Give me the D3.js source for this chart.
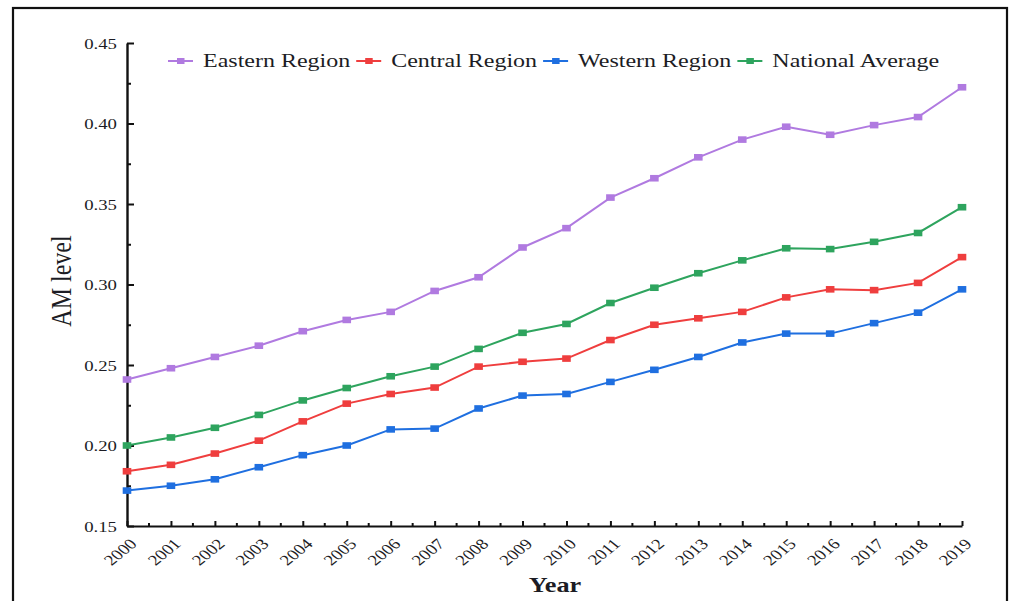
<!DOCTYPE html>
<html>
<head>
<meta charset="utf-8">
<script src="https://cdn.jsdelivr.net/npm/d3@7"></script>
<style>
  html, body { margin: 0; padding: 0; background: #fff; }
  svg { display: block; }
  text { font-family: "Liberation Serif", "Times New Roman", serif; fill: #1c1c24; }
</style>
</head>
<body>
<svg id="chart" width="1011" height="601"></svg>
<script>
// Years on the horizontal axis
const years = ["2000","2001","2002","2003","2004","2005","2006","2007","2008","2009",
               "2010","2011","2012","2013","2014","2015","2016","2017","2018","2019"];

// AM level by region
const eastern  = [0.241,0.248,0.255,0.262,0.271,0.278,0.283,0.296,0.3045,0.323,0.335,0.354,0.366,0.379,0.390,0.398,0.393,0.399,0.404,0.4225];
const central  = [0.184,0.188,0.195,0.203,0.215,0.226,0.232,0.236,0.249,0.252,0.254,0.2655,0.275,0.279,0.283,0.292,0.297,0.2965,0.301,0.317];
const western  = [0.172,0.175,0.179,0.1865,0.194,0.200,0.210,0.2105,0.223,0.231,0.232,0.2395,0.247,0.255,0.264,0.2695,0.2695,0.276,0.2825,0.297];
const national = [0.200,0.205,0.211,0.219,0.228,0.2357,0.243,0.249,0.260,0.270,0.2755,0.2885,0.298,0.307,0.315,0.3225,0.322,0.3265,0.332,0.348];

const seriesNames = ["Eastern Region","Central Region","Western Region","National Average"];
const seriesColors = ["#b07ae0","#ef3e3e","#1f6fe0","#2ea45e"];
const yTicks = [0.15,0.20,0.25,0.30,0.35,0.40,0.45];
const yMinorTicks = [0.175,0.225,0.275,0.325,0.375,0.425];

const series = [eastern, central, western, national].map((vals, i) => ({
  name: seriesNames[i], color: seriesColors[i], values: vals
}));

const svg = d3.select("#chart");
const SX = 1.25; // text is drawn slightly wide

// outer frame
svg.append("rect")
  .attr("x", 13).attr("y", 8).attr("width", 994).attr("height", 620)
  .attr("fill", "none").attr("stroke", "#111").attr("stroke-width", 2.2);

const x = d3.scalePoint().domain(years).range([127, 962]);
const y = d3.scaleLinear().domain([0.15, 0.45]).range([526, 43]);

// y axis
const yAxisG = svg.append("g").attr("transform", "translate(127,0)")
  .call(d3.axisLeft(y).tickValues(yTicks).tickSize(-7).tickSizeOuter(0).tickPadding(0)
    .tickFormat(d3.format(".2f")));
yAxisG.select(".domain").attr("stroke", "#111").attr("stroke-width", 2.4);
yAxisG.selectAll(".tick line").attr("stroke", "#111").attr("stroke-width", 2);
yAxisG.selectAll(".tick text")
  .attr("x", 0).attr("dy", "0.34em")
  .attr("transform", `translate(-10,0) scale(${SX},1)`)
  .style("font-size", "15px").attr("fill", "#1c1c2a");

svg.append("g").attr("transform", "translate(127,0)")
  .call(d3.axisLeft(y).tickValues(yMinorTicks).tickSize(-4).tickSizeOuter(0).tickFormat(""))
  .call(g => g.select(".domain").remove())
  .call(g => g.selectAll(".tick line").attr("stroke", "#111").attr("stroke-width", 2));

// x axis
const xAxisG = svg.append("g").attr("transform", "translate(0,526)")
  .call(d3.axisBottom(x).tickSize(-5).tickSizeOuter(0).tickFormat(""));
xAxisG.select(".domain").attr("stroke", "#111").attr("stroke-width", 2.2);
xAxisG.selectAll(".tick line").attr("stroke", "#111").attr("stroke-width", 2);

// minor ticks midway between years
const mids = years.slice(1).map((yr, i) => (x(years[i]) + x(yr)) / 2);
svg.append("g").selectAll("line").data(mids).join("line")
  .attr("x1", d => d).attr("x2", d => d).attr("y1", 526).attr("y2", 523)
  .attr("stroke", "#111").attr("stroke-width", 2);

// rotated year labels
svg.append("g").selectAll("g").data(years).join("g")
  .attr("transform", d => `translate(${x(d) + 11},545) scale(${SX},1) rotate(-45)`)
  .append("text")
  .attr("text-anchor", "end")
  .style("font-size", "15px")
  .text(d => d);

// axis titles
svg.append("text")
  .attr("transform", `translate(555,592) scale(${SX},1)`)
  .attr("text-anchor", "middle")
  .style("font-size", "21px").style("font-weight", "bold")
  .text("Year");

svg.append("text")
  .attr("transform", `translate(71,281) scale(${SX},1) rotate(-90)`)
  .attr("text-anchor", "middle")
  .style("font-size", "24px")
  .text("AM level");

// lines and markers
const line = d3.line().x((d, i) => x(years[i])).y(d => y(d));
const plot = svg.append("g");
series.forEach(s => {
  plot.append("path").datum(s.values)
    .attr("d", line).attr("fill", "none")
    .attr("stroke", s.color).attr("stroke-width", 2);
  plot.append("g").selectAll("rect").data(s.values).join("rect")
    .attr("x", (d, i) => x(years[i]) - 4.3)
    .attr("y", d => y(d) - 3.3)
    .attr("width", 8.6).attr("height", 6.6)
    .attr("fill", s.color);
});

// legend
const legend = svg.append("g").attr("transform", "translate(168,61)");
let cursor = 0;
series.forEach(s => {
  const g = legend.append("g").attr("transform", `translate(${cursor},0)`);
  g.append("line").attr("x1", 0).attr("x2", 25).attr("y1", 0).attr("y2", 0)
    .attr("stroke", s.color).attr("stroke-width", 2);
  g.append("rect").attr("x", 9).attr("y", -3).attr("width", 7.5).attr("height", 6)
    .attr("fill", s.color);
  const t = g.append("text")
    .attr("transform", `translate(35,6) scale(${SX},1)`)
    .style("font-size", "19.2px")
    .text(s.name);
  const w = t.node().getComputedTextLength() * SX;
  cursor += 35 + w + 6;
});
</script>
</body>
</html>
